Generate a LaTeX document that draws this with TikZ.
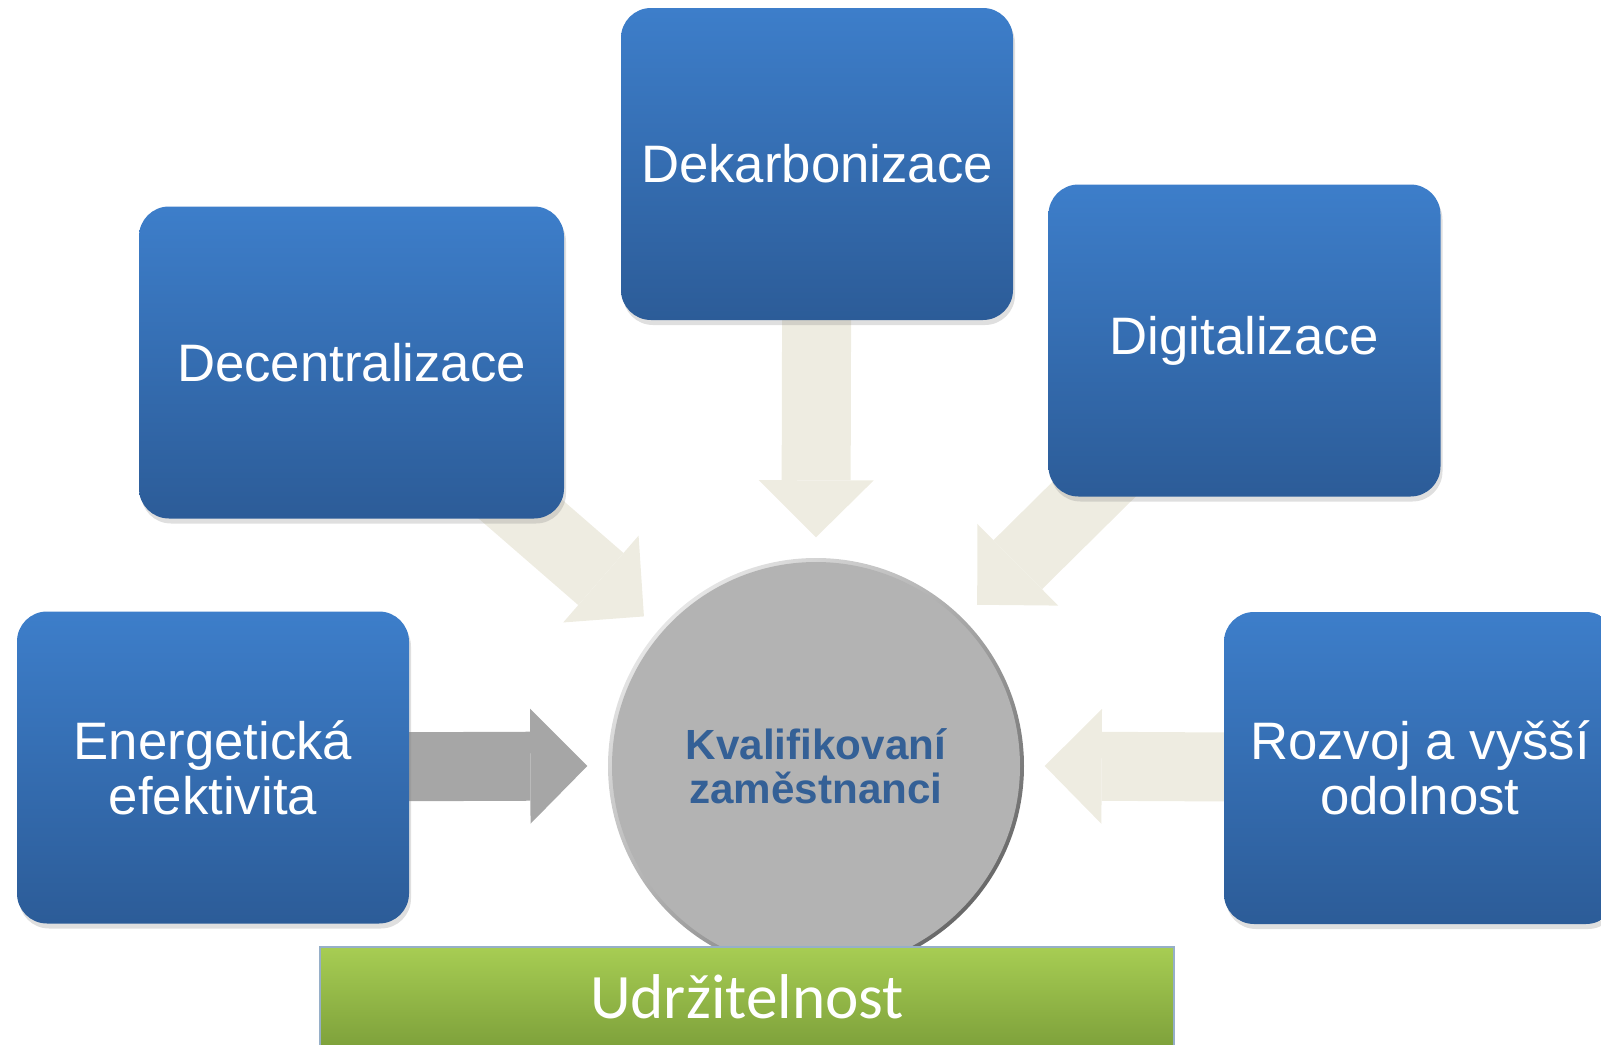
\documentclass[tikz,border=0pt]{standalone}
\usepackage{fontspec}
\setmainfont{Liberation Sans}
\newfontfamily\calibrifont{Carlito}
\usepackage{tikz}
\usetikzlibrary{calc}
\usetikzlibrary{arrows.meta}
\usetikzlibrary{shadows}
\usetikzlibrary{backgrounds}

\definecolor{boxtop}{RGB}{61,126,202}
\definecolor{boxbottom}{RGB}{44,92,152}
\definecolor{arrowtan}{RGB}{238,236,225}
\definecolor{arrowgray}{RGB}{166,166,166}
\definecolor{circgray}{RGB}{179,179,179}
\definecolor{circlight}{RGB}{230,230,230}
\definecolor{circdark}{RGB}{105,105,105}
\definecolor{circtext}{RGB}{52,96,150}
\definecolor{bartop}{RGB}{167,205,83}
\definecolor{barbottom}{RGB}{126,161,59}
\definecolor{baredge}{RGB}{150,175,200}

\tikzset{
  topic/.style={rounded corners=0.3cm, minimum width=3.92cm, minimum height=3.12cm,
    inner sep=0pt, align=center, text=white, top color=boxtop, bottom color=boxbottom,
    font=\fontsize{15}{15.6}\selectfont,
    drop shadow={shadow xshift=0.02cm, shadow yshift=-0.05cm, opacity=0.25}},
  flow/.style={line width=0.69cm, arrowtan,
    -{Triangle[length=0.57cm, width=1.15cm, line width=0pt]}},
}

\begin{document}
\begin{tikzpicture}
            \useasboundingbox (0,0) rectangle (16.01,-10.45);

            % Draw the central circle
            \node[circle, minimum size=4.16cm, inner sep=0pt, top color=circlight,
                  bottom color=circdark, shading angle=45,
                  path picture={\fill[circgray] (path picture bounding box.center) circle (2.04cm);}]
                  (circ) at (8.16,-7.66) {};
            \node[font=\bfseries\fontsize{12}{12.6}\selectfont, text=circtext, align=center]
                  (circtxt) at (circ.center) {Kvalifikovaní\\zaměstnanci};

            % Draw the topic boxes
            \node[topic] (dek) at (8.17,-1.64) {Dekarbonizace};
            \node[topic, minimum width=4.25cm] (dec) at (3.515,-3.625) {Decentralizace};
            \node[topic] (dig) at (12.445,-3.405) {Digitalizace};
            \node[topic] (ene) at (2.13,-7.675) {Energetická\\efektivita};
            \node[topic] (roz) at (14.20,-7.68) {Rozvoj a vyšší\\odolnost};

            % Calculate the arrow tips round the circle
            \coordinate (tipDek) at ($(circ.north)+(0,0.2)$);
            \coordinate (tipEne) at ($(circ.west)+(-0.2,0)$);
            \coordinate (tipRoz) at ($(circ.east)+(0.2,0)$);
            \coordinate (tipDec) at ($(circ.center)+(139:2.28)$);
            \coordinate (tipDig) at ($(circ.center)+(45:2.28)$);

            % Draw the arrows behind the boxes
            \begin{scope}[on background layer]
            \draw[flow] (dek.center) -- (tipDek);
            \draw[flow] (dec.center) -- (tipDec);
            \draw[flow] (dig.center) -- (tipDig);
            \draw[flow] (roz.center) -- (tipRoz);
            \draw[flow, arrowgray] (ene.center) -- (tipEne);
            \end{scope}

            % Draw the base bar
            \node[minimum width=8.54cm, minimum height=1.0cm, inner sep=0pt,
                  top color=bartop, bottom color=barbottom, draw=baredge, line width=0.6pt,
                  text=white, font=\calibrifont\fontsize{18}{18}\selectfont]
                  (bar) at (7.47,-9.97) {Udržitelnost};
\end{tikzpicture}
\end{document}
